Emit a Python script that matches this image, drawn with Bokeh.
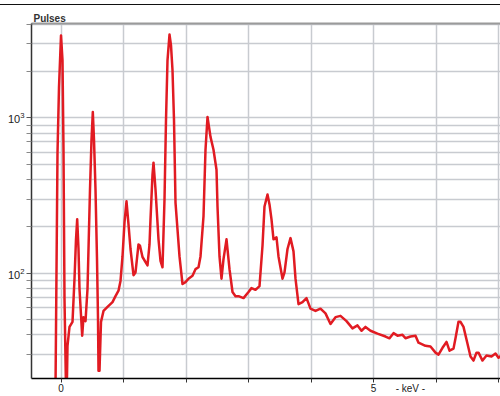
from bokeh.plotting import figure
from bokeh.models import FixedTicker, LinearAxis, Range1d
from bokeh.embed import file_html
from bokeh.resources import INLINE

# Spectrum: energy (keV) and pulses (counts)
energy_kev = [
    -0.088, -0.056, -0.032, 0.000, 0.024, 0.040, 0.056, 0.080, 0.096, 0.104,
    0.136, 0.184, 0.216, 0.240, 0.259, 0.280, 0.296, 0.339, 0.360, 0.392,
    0.424, 0.440, 0.464, 0.488, 0.509, 0.528, 0.552, 0.576, 0.592, 0.600,
    0.616, 0.640, 0.680, 0.744, 0.824, 0.872, 0.920, 0.952, 0.984, 1.016,
    1.048, 1.080, 1.112, 1.160, 1.192, 1.240, 1.264, 1.304, 1.384, 1.416,
    1.432, 1.464, 1.480, 1.512, 1.560, 1.592, 1.624, 1.656, 1.680, 1.704,
    1.736, 1.760, 1.784, 1.808, 1.832, 1.864, 1.896, 1.944, 1.992, 2.040,
    2.104, 2.152, 2.200, 2.232, 2.280, 2.312, 2.344, 2.392, 2.440, 2.488,
    2.504, 2.536, 2.568, 2.600, 2.648, 2.696, 2.744, 2.792, 2.840, 2.920,
    3.000, 3.048, 3.112, 3.176, 3.224, 3.256, 3.304, 3.336, 3.368, 3.400,
    3.448, 3.480, 3.544, 3.576, 3.624, 3.672, 3.720, 3.752, 3.800, 3.864,
    3.928, 3.992, 4.072, 4.152, 4.232, 4.312, 4.392, 4.472, 4.568, 4.664,
    4.744, 4.808, 4.872, 4.952, 5.064, 5.192, 5.256, 5.320, 5.384, 5.464,
    5.512, 5.592, 5.672, 5.720, 5.832, 5.912, 5.992, 6.040, 6.104, 6.168,
    6.216, 6.280, 6.312, 6.360, 6.392, 6.440, 6.504, 6.552, 6.600, 6.648,
    6.680, 6.744, 6.808, 6.888, 6.952, 7.000, 7.048,
]
pulses = [
    18, 597, 1581, 3404, 2354, 624, 68, 18, 21.5, 34,
    45, 48.5, 92, 165, 222, 143, 79, 39.5, 52, 49,
    79, 143, 346, 722, 1093, 722, 346, 123, 51, 23.5,
    23.5, 48.5, 57, 60.5, 65, 71, 77, 89, 128, 212,
    290, 206, 143, 97, 101, 153, 150, 127, 112, 153,
    222, 431, 515, 346, 165, 120, 109, 298, 971, 2354,
    3452, 2938, 2031, 971, 285, 191, 128, 85, 87.5, 92,
    96, 106, 109, 128, 232, 624, 1015, 755, 624, 464,
    269, 128, 92, 123, 165, 106, 75.5, 71, 71, 69,
    75.5, 80, 78, 82.5, 150, 269, 321, 277, 222, 165,
    170, 128, 92, 101, 143, 168, 138, 92, 63, 65,
    69, 59, 57, 59, 55, 47, 52, 53, 49, 44,
    46, 42.5, 45, 42.5, 40.7, 39, 38, 41, 39.5, 40,
    38, 39, 39.5, 35.6, 34, 33.6, 30.7, 29.8, 33, 36,
    31.6, 32.6, 38, 48.5, 48.5, 45, 35, 29, 27.3, 30.7,
    30.7, 27.3, 29.4, 29, 30.3, 28.5, 29.4,
]

x_ticks = [0, 1, 2, 3, 4, 5, 6, 7]
x_label_ticks = [0, 5, 5.59]
x_label_texts = {0: "0", 5: "5", 5.59: "- keV -"}
y_major_ticks = [100, 1000]
y_minor_ticks = [20, 30, 40, 50, 60, 70, 80, 90,
                 200, 300, 400, 500, 600, 700, 800, 900,
                 2000, 3000, 4000]
y_title = "Pulses"

FONT = "Liberation Sans"
GRID = "#c8cbd0"

p = figure(width=500, height=391, y_axis_type="log",
           x_range=Range1d(-0.472, 7.032), y_range=Range1d(20.92, 4064),
           output_backend="svg", toolbar_location=None,
           min_border_left=31, min_border_right=0,
           min_border_top=18, min_border_bottom=16,
           outline_line_color=None, background_fill_color="white",
           border_fill_color="white", title=y_title)
p.styles = {"margin-top": "4px", "border-top": "1px solid #111111"}

# title ("Pulses")
p.title.align = "left"
p.title.offset = 2
p.title.standoff = 0
p.title.text_font = FONT
p.title.text_font_size = "10px"
p.title.text_font_style = "bold"
p.title.text_color = "#333333"

# grids
p.xgrid.ticker = FixedTicker(ticks=x_ticks)
p.xgrid.grid_line_color = GRID
p.xgrid.grid_line_width = 1.5
p.ygrid.grid_line_color = GRID
p.ygrid.grid_line_width = 1.5
p.ygrid.minor_grid_line_color = GRID
p.ygrid.minor_grid_line_width = 1.5

# x axis: integer ticks as (visible) minor ticks, labels on hidden majors
xa = p.xaxis[0]
xa.ticker = FixedTicker(ticks=x_label_ticks, minor_ticks=x_ticks)
xa.major_label_overrides = x_label_texts
xa.axis_line_color = "black"
xa.axis_line_width = 1.5
xa.major_tick_out = 3
xa.major_tick_in = 0
xa.major_tick_line_color = None
xa.minor_tick_out = 4
xa.minor_tick_in = 0
xa.minor_tick_line_color = "#333333"
xa.major_label_text_font = FONT
xa.major_label_text_font_size = "10px"
xa.major_label_text_color = "#222222"
xa.major_label_standoff = 0

# y axis
ya = p.yaxis[0]
ya.ticker = FixedTicker(ticks=y_major_ticks, minor_ticks=y_minor_ticks)
ya.axis_line_color = "#333333"
ya.axis_line_width = 1.5
ya.major_tick_out = 5
ya.major_tick_in = 0
ya.minor_tick_out = 5
ya.minor_tick_in = 0
ya.major_tick_line_color = "#555555"
ya.minor_tick_line_color = "#888888"
ya.major_label_text_font = FONT
ya.major_label_text_font_size = "11px"
ya.major_label_text_color = "#222222"
ya.major_label_standoff = 2

# top border of the frame
top = LinearAxis(axis_line_color="#9a9a9a", axis_line_width=2,
                 major_tick_line_color=None, minor_tick_line_color=None,
                 major_tick_out=0, major_tick_in=0,
                 major_label_text_font_size="0px", major_label_standoff=0)
top.ticker = FixedTicker(ticks=[])
p.add_layout(top, "above")

# spectrum
p.line(energy_kev, pulses, line_color="#e11b22", line_width=2.5,
       line_join="round")

open("out.html", "w").write(file_html(p, INLINE))
